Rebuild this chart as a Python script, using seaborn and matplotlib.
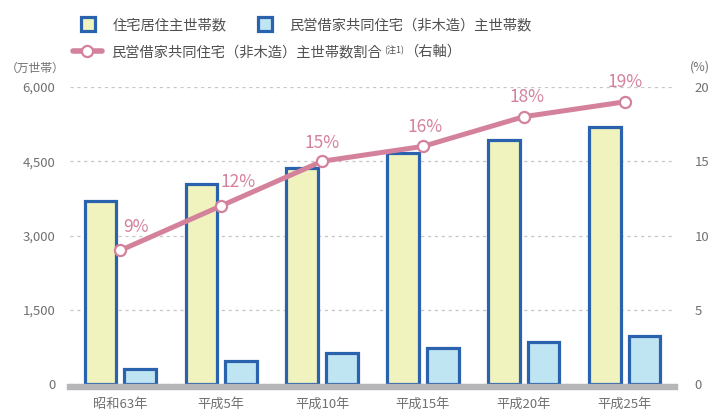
import numpy as np
import pandas as pd
import matplotlib
matplotlib.use("Agg")
import matplotlib.pyplot as plt
from matplotlib.lines import Line2D
from matplotlib.text import Annotation
import seaborn as sns

# ---- data -------------------------------------------------------------
years = ["昭和63年", "平成5年", "平成10年", "平成15年", "平成20年", "平成25年"]
all_households = [3700, 4040, 4370, 4670, 4930, 5190]      # 万世帯
rental_households = [310, 460, 630, 730, 850, 970]         # 万世帯
rental_share = [9, 12, 15, 16, 18, 19]                     # %
left_ticks = [0, 1500, 3000, 4500, 6000]
right_ticks = [0, 5, 10, 15, 20]

series_all = "住宅居住主世帯数"
series_rental = "民営借家共同住宅（非木造）主世帯数"
share_label = "民営借家共同住宅（非木造）主世帯数割合"

# ---- style ------------------------------------------------------------
YELLOW = "#f0f3be"
LBLUE = "#bfe4f2"
BLUE = "#2a62ad"
PINK = "#d4829b"
BASE = "#b6b6b8"
GRID = "#c6c6c6"
TICK_TXT = "#707070"
LEG_TXT = "#505050"

sns.set_style("white")
plt.rcParams["font.family"] = ["Noto Sans CJK JP", "DejaVu Sans"]

W, H = 719, 416
fig = plt.figure(figsize=(W / 100, H / 100), dpi=100)
ax = fig.add_axes([70 / W, 1 - 384 / H, (675 - 70) / W, (384 - 87) / H])

df = pd.DataFrame({
    "年": years * 2,
    "世帯数": all_households + rental_households,
    "系列": [series_all] * len(years) + [series_rental] * len(years),
})

sns.barplot(data=df, x="年", y="世帯数", hue="系列", order=years,
            hue_order=[series_all, series_rental],
            palette=[YELLOW, LBLUE], saturation=1, edgecolor=BLUE,
            linewidth=2.3, width=0.786, gap=0.2, legend=False, ax=ax,
            zorder=3)

ax.set_xlim(-0.5, len(years) - 0.5)
ax.set_ylim(0, 6000)
ax.set_xlabel("")
ax.set_ylabel("")
ax.set_yticks(left_ticks)
ax.set_yticklabels([f"{v:,}" for v in left_ticks])
ax.yaxis.grid(True, linestyle=(0, (2.5, 3)), color=GRID, lw=0.9)
ax.xaxis.grid(False)
ax.set_axisbelow(True)
ax.tick_params(axis="y", length=0, pad=10.5, labelsize=9.5, labelcolor=TICK_TXT)
ax.tick_params(axis="x", which="major", length=0, pad=8, labelsize=9.5,
               labelcolor=TICK_TXT)
ax.set_xticks(np.arange(-0.5, len(years)), minor=True)
ax.tick_params(axis="x", which="minor", direction="in", length=7, width=1,
               color=BASE)

for side in ("left", "right", "top"):
    ax.spines[side].set_visible(False)
sp = ax.spines["bottom"]
sp.set_position(("outward", 2.2))
sp.set_linewidth(4.6)
sp.set_color(BASE)
sp.set_capstyle("projecting")
sp.set_zorder(4)

# ---- share line on the right axis -------------------------------------
ax2 = ax.twinx()
sns.lineplot(x=np.arange(len(years)), y=rental_share, ax=ax2, color=PINK,
             lw=3.6, marker="o", ms=8, mfc="white", mec=PINK, mew=1.6,
             legend=False)
ax2.set_ylim(0, 20)
ax2.set_yticks(right_ticks)
ax2.tick_params(axis="y", length=0, pad=14, labelsize=9.5, labelcolor=TICK_TXT)
ax2.set_ylabel("")
for side in ("left", "right", "top", "bottom"):
    ax2.spines[side].set_visible(False)

label_offsets = [(11, 17), (12, 17), (0, 13), (1.5, 14), (2, 14), (0, 14.5)]
for i, (v, off) in enumerate(zip(rental_share, label_offsets)):
    ax2.annotate(f"{v}%", xy=(i, v), xytext=off, textcoords="offset points",
                 ha="center", va="center", color=PINK, fontsize=12.5,
                 annotation_clip=False)

# ---- axis unit captions ----------------------------------------------
fig.text(35 / W, 1 - 68 / H, "（万世帯）", ha="center", va="center",
         fontsize=8.5, color=TICK_TXT)
fig.text(700 / W, 1 - 67 / H, "(%)", ha="center", va="center",
         fontsize=9, color=TICK_TXT)

# ---- legend -----------------------------------------------------------
fs = 10.3
h_all = Line2D([], [], ls="none", marker="s", ms=9.5, mfc=YELLOW, mec=BLUE, mew=2.3)
h_rent = Line2D([], [], ls="none", marker="s", ms=9.5, mfc=LBLUE, mec=BLUE, mew=2.3)
h_share = Line2D([], [], color=PINK, lw=4, marker="o", ms=8, mfc="white",
                 mec=PINK, mew=1.6)

common = dict(frameon=False, loc="center left", bbox_transform=fig.transFigure,
              borderpad=0, borderaxespad=0, prop={"size": fs},
              labelcolor=LEG_TXT)
fig.legend([h_all], [series_all], bbox_to_anchor=(81 / W, 1 - 25 / H),
           handlelength=1.0, handletextpad=1.19, **common)
fig.legend([h_rent], [series_rental], bbox_to_anchor=(258 / W, 1 - 25 / H),
           handlelength=1.0, handletextpad=1.19, **common)
leg3 = fig.legend([h_share], [share_label], bbox_to_anchor=(73 / W, 1 - 52 / H),
                  handlelength=2.0, handletextpad=0.7, **common)

# note mark and axis hint appended after the third legend entry
leg_text = leg3.get_texts()[0]
sup = Annotation("(注1)", xy=(1, 0.92), xycoords=leg_text, xytext=(1, 0),
                 textcoords="offset points", ha="left", va="top",
                 fontsize=6.5, color=LEG_TXT)
sup.set_zorder(10)
fig.add_artist(sup)
hint = Annotation("（右軸）", xy=(1, 0), xycoords=(sup, leg_text),
                  xytext=(0.5, 0), textcoords="offset points", ha="left",
                  va="bottom", fontsize=fs, color=LEG_TXT)
hint.set_zorder(11)
fig.add_artist(hint)

fig.savefig("out.png", dpi=100)
